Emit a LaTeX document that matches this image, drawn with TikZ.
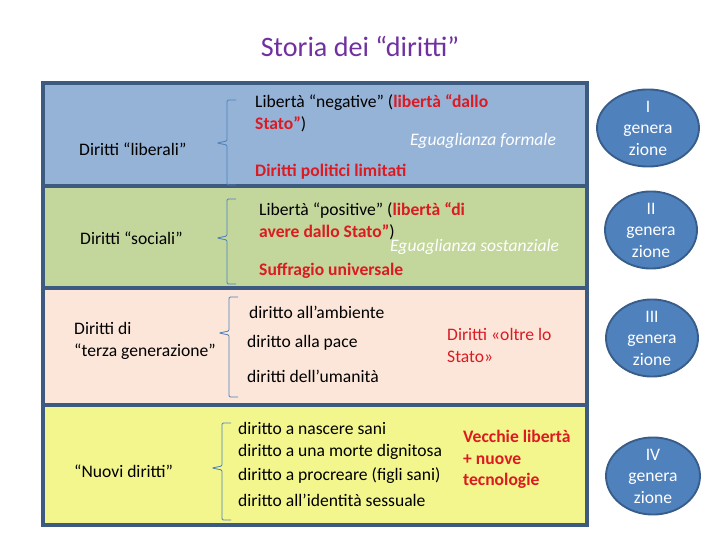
\documentclass[tikz,border=0pt]{standalone}
\usepackage{fontspec}
\setmainfont{Carlito}
\usepackage{tikz}
\usetikzlibrary{shapes.geometric,positioning}
\definecolor{bandblue}{HTML}{95B3D7}
\definecolor{bandgreen}{HTML}{C3D69B}
\definecolor{bandpeach}{HTML}{FCE6D9}
\definecolor{bandyellow}{HTML}{F3F68C}
\definecolor{bandedge}{HTML}{3D5A80}
\definecolor{genblue}{HTML}{4F81BD}
\definecolor{genedge}{HTML}{385D8A}
\definecolor{titlepurple}{HTML}{7030A0}
\definecolor{dred}{HTML}{DC1A22}
\tikzstyle{band} = [draw=bandedge, line width=2.6pt]
\tikzstyle{txt} = [anchor=west, inner sep=0pt, align=left, font=\fontsize{15}{19}\selectfont]
\tikzstyle{note} = [txt, font=\fontsize{15}{19}\selectfont\itshape, text=white]
\tikzstyle{gen} = [ellipse, draw=genedge, line width=1.6pt, fill=genblue, text=white, minimum width=3cm, minimum height=2.1cm, inner sep=0pt, align=center, font=\fontsize{15}{18.4}\selectfont]
\tikzstyle{curly} = [draw=genblue, line width=0.7pt, rounded corners=1pt]

\begin{document}
\begin{tikzpicture}[x=0.03cm, y=-0.03cm]
	\useasboundingbox (0,0) rectangle (720,540);
	\coordinate (liberali) at (79,149);
	\coordinate (sociali) at (80,238);
	\coordinate (terza) at (74,341);
	\coordinate (nuovi) at (74,471);
	\coordinate (gen1) at (648,128);
	\coordinate (gen2) at (651,230);
	\coordinate (gen3) at (652,338);
	\coordinate (gen4) at (653,476);
	% Title
	\node[font=\fontsize{24}{28}\selectfont, text=titlepurple, name=title] at (360,46) {Storia dei “diritti”};
	% Bands
	\draw[band, fill=bandblue] (43,83) rectangle (587,186);
	\draw[band, fill=bandgreen] (43,186) rectangle (587,288);
	\draw[band, fill=bandpeach] (43,288) rectangle (587,405);
	\draw[band, fill=bandyellow] (43,405) rectangle (587,525);
	% Left column
	\begin{scope}[every node/.style={txt}]
	\node[name=liberali] at (liberali) {Diritti “liberali”};
	\node[name=sociali] at (sociali) {Diritti “sociali”};
	\node[name=terza] at (terza) {Diritti di\\“terza generazione”};
	\node[name=nuovi] at (nuovi) {“Nuovi diritti”};
	\end{scope}
	% Braces
	\draw[curly] (236,100) -- (227,100) -- (227,141) -- (217,143) -- (227,145) -- (227,185) -- (236,185);
	\draw[curly] (236,199) -- (227,199) -- (227,236) -- (217,238) -- (227,240) -- (227,284) -- (236,284);
	\draw[curly] (238,297) -- (229,297) -- (229,331) -- (219,333) -- (229,335) -- (229,397) -- (238,397);
	\draw[curly] (231,423) -- (222,423) -- (222,466) -- (212,468) -- (222,470) -- (222,520) -- (231,520);
	% Liberali
	\node[txt, name=negative] at (255,113) {Libertà “negative” (\textcolor{dred}{\bfseries libertà “dallo}\\\textcolor{dred}{\bfseries Stato”})};
	\node[note, name=formale] at (410,141) {Eguaglianza formale};
	\node[txt, text=dred, font=\fontsize{15}{19}\selectfont\bfseries, name=politici] at (255,172) {Diritti politici limitati};
	% Sociali
	\node[txt, name=positive] at (259,221.5) {Libertà “positive” (\textcolor{dred}{\bfseries libertà “di}\\\textcolor{dred}{\bfseries avere dallo Stato”})};
	\node[note, name=sostanziale] at (390,247) {Eguaglianza sostanziale};
	\node[txt, text=dred, font=\fontsize{15}{19}\selectfont\bfseries, name=suffragio] at (259,271) {Suffragio universale};
	% Terza generazione
	\node[txt, name=ambiente] at (249,312) {diritto all’ambiente};
	\node[txt, name=pace] at (247,343) {diritto alla pace};
	\node[txt, name=umanita] at (247,376) {diritti dell’umanità};
	\node[txt, text=dred, name=oltre] at (447,345.5) {Diritti «oltre lo\\Stato»};
	% Nuovi diritti
	\node[txt, name=nascere] at (238,428) {diritto a nascere sani};
	\node[txt, name=morte] at (238,452) {diritto a una morte dignitosa};
	\node[txt, name=procreare] at (238,476) {diritto a procreare (figli sani)};
	\node[txt, name=identita] at (238,500) {diritto all’identità sessuale};
	\node[txt, text=dred, font=\fontsize{15}{18.4}\selectfont\bfseries, name=vecchie] at (463,459.5) {Vecchie libertà\\+ nuove\\tecnologie};
	% Generations
	\node[gen, minimum width=3.06cm, name=gen1] at (gen1) {I\\genera\\zione};
	\node[gen, minimum width=2.76cm, minimum height=2.16cm, name=gen2] at (gen2) {II\\genera\\zione};
	\node[gen, minimum width=2.76cm, name=gen3] at (gen3) {III\\genera\\zione};
	\node[gen, minimum width=2.82cm, minimum height=2.16cm, name=gen4] at (gen4) {IV\\genera\\zione};
\end{tikzpicture}
\end{document}
